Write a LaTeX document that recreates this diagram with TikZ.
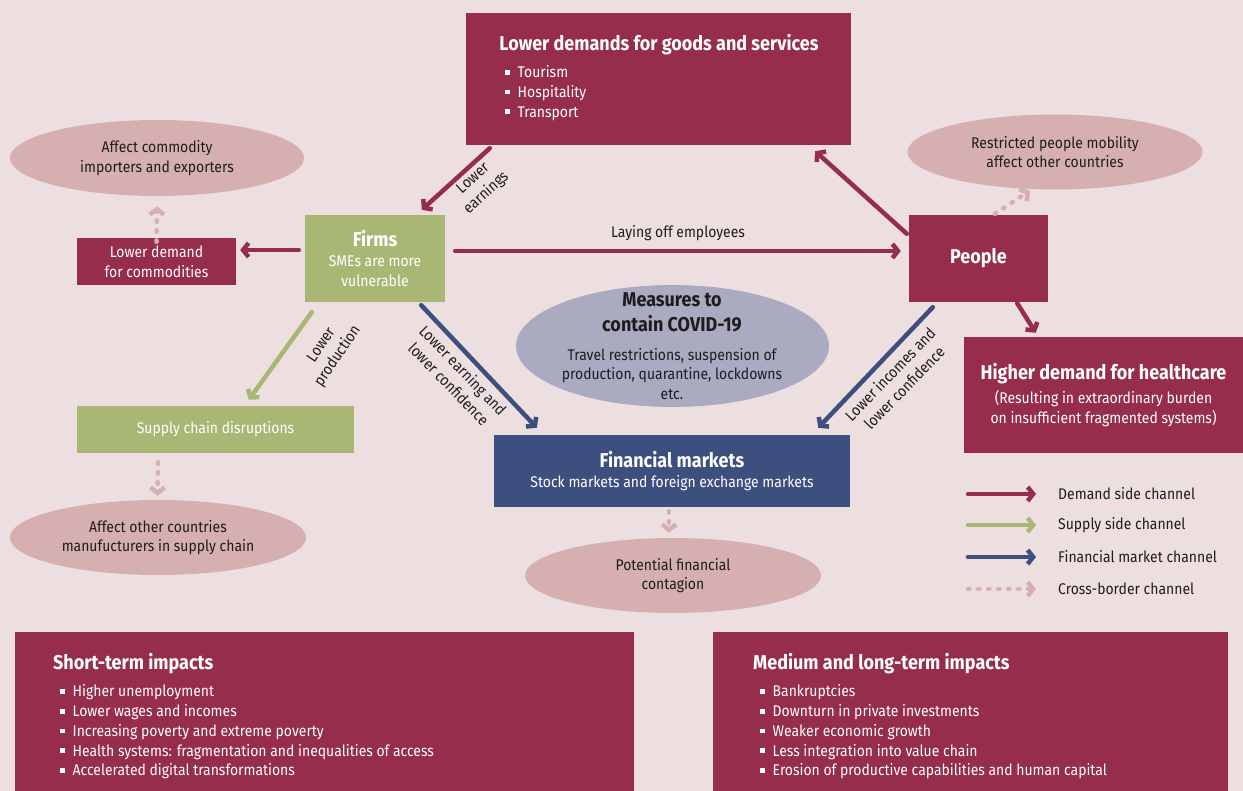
\documentclass[tikz,border=0pt]{standalone}
\usepackage{fontspec}
\setmainfont{Fira Sans}[FakeStretch=0.9]
\usepackage{xcolor}
\usetikzlibrary{positioning,arrows.meta,shapes.geometric}

\definecolor{bgpink}{RGB}{237,223,224}
\definecolor{maroon}{RGB}{150,45,74}
\definecolor{olive}{RGB}{168,184,116}
\definecolor{navy}{RGB}{61,79,126}
\definecolor{rose}{RGB}{214,176,177}
\definecolor{lilac}{RGB}{170,170,193}
\definecolor{ink}{RGB}{30,28,30}

\newcommand{\bodyfont}{\fontsize{15.5}{19.7}\selectfont}
\newcommand{\headfont}{\fontsize{20}{25}\selectfont\bfseries}
\newcommand{\sqb}{\rule[0.2em]{4.5pt}{4.5pt}\hspace{8pt}}

\tikzset{
redbox/.style={fill=maroon, text=white, inner sep=0pt, font=\bodyfont, align=center},
greenbox/.style={fill=olive, text=white, inner sep=0pt, font=\bodyfont, align=center},
bluebox/.style={fill=navy, text=white, inner sep=0pt, font=\bodyfont, align=center},
bubble/.style={ellipse, fill=rose, text=ink, inner sep=0pt, font=\bodyfont, align=center},
head/.style={font=\headfont, text=white, inner sep=0pt},
list/.style={font=\bodyfont, text=white, align=left, inner sep=0pt},
lab/.style={font=\bodyfont, text=ink, align=center, inner sep=0pt},
chan/.style={line width=4.5pt, line cap=round, -{Straight Barb[length=5.5pt,width=14pt]}},
demand/.style={chan, maroon},
supply/.style={chan, olive},
finance/.style={chan, navy},
border/.style={chan, rose, line cap=round, dash pattern=on 1.5pt off 8.5pt}
}

\begin{document}
\begin{tikzpicture}[x=1pt,y=-1pt]
\fill[bgpink] (0,0) rectangle (1243,791);
\useasboundingbox (0,0) rectangle (1243,791);

% boxes
\node[redbox, minimum width=385pt, minimum height=132pt] (goods) at (658.5,79) {};
\node[head] (goodshead) at (659,45) {Lower demands for goods and services};
\node[list, anchor=west] (goodslist) at (505,93) {\sqb Tourism\\ \sqb Hospitality\\ \sqb Transport};

\node[redbox, minimum width=159pt, minimum height=47pt] (commod) at (156.5,261.5) {Lower demand\\for commodities};
\node[greenbox, minimum width=140pt, minimum height=87pt] (firms) at (375,258.5) {{\headfont Firms}\\SMEs are more\\vulnerable};
\node[redbox, minimum width=139pt, minimum height=87pt] (people) at (978.5,258.5) {\headfont People};
\node[redbox, minimum width=279pt, minimum height=116pt] (health) at (1103.5,395)
  {{\headfont Higher demand for healthcare}\\[5pt](Resulting in extraordinary burden\\on insufficient fragmented systems)};
\node[greenbox, minimum width=277pt, minimum height=47pt] (chain) at (215.5,429.5) {Supply chain disruptions};
\node[bluebox, minimum width=356pt, minimum height=72pt] (fin) at (672,471) {{\headfont Financial markets}\\Stock markets and foreign exchange markets};

% ellipses
\node[bubble, minimum width=294pt, minimum height=76pt] (commodity) at (157,158) {Affect commodity\\importers and exporters};
\node[bubble, minimum width=295pt, minimum height=75pt] (mobility) at (1055,152) {Restricted people mobility\\affect other countries};
\node[bubble, minimum width=296pt, minimum height=75pt] (others) at (158,537.5) {Affect other countries\\manufucturers in supply chain};
\node[bubble, minimum width=296pt, minimum height=75pt] (contagion) at (673,575.5) {Potential financial\\contagion};
\node[bubble, fill=lilac, minimum width=313pt, minimum height=122pt] (covid) at (672.5,346) {};
\node[head, text=ink, align=center] (covidhead) at (672,312.5) {Measures to\\contain COVID-19};
\node[lab] (covidtext) at (672,374) {Travel restrictions, suspension of\\production, quarantine, lockdowns\\etc.};

% impacts
\node[redbox, minimum width=619pt, minimum height=159pt] (short) at (324.5,711.5) {};
\node[head, anchor=west] (shorthead) at (53,664) {Short-term impacts};
\node[list, anchor=west] (shortlist) at (60,732) {\sqb Higher unemployment\\ \sqb Lower wages and incomes\\ \sqb Increasing poverty and extreme poverty\\ \sqb Health systems: fragmentation and inequalities of access\\ \sqb Accelerated digital transformations};
\node[redbox, minimum width=515pt, minimum height=159pt] (medium) at (970.5,711.5) {};
\node[head, anchor=west] (mediumhead) at (753,664) {Medium and long-term impacts};
\node[list, anchor=west] (mediumlist) at (760,732) {\sqb Bankruptcies\\ \sqb Downturn in private investments\\ \sqb Weaker economic growth\\ \sqb Less integration into value chain\\ \sqb Erosion of productive capabilities and human capital};

% channels
\draw[demand] ([xshift=24pt,yshift=-3pt]goods.south west) -- ([xshift=117pt,yshift=5pt]firms.north west);
\draw[demand] ([xshift=-6pt,yshift=8.5pt]firms.west) -- ([xshift=4pt,yshift=11.5pt]commod.east);
\draw[demand] ([xshift=10pt,yshift=7.5pt]firms.east) -- ([xshift=-8pt,yshift=7.5pt]people.west)
  node[lab, midway, above=8pt] (layoff) {Laying off employees};
\draw[demand] ([xshift=-2pt,yshift=-19pt]people.north west) -- ([xshift=-36pt,yshift=-6pt]goods.south east);
\draw[demand] ([xshift=-31pt,yshift=-1pt]people.south east) -- ([xshift=72pt,yshift=4pt]health.north west);
\draw[supply] ([xshift=7pt,yshift=-10pt]firms.south west) -- ([xshift=172pt,yshift=6pt]chain.north west);
\draw[finance] ([xshift=-24pt,yshift=-3pt]firms.south east) -- ([xshift=43pt,yshift=7pt]fin.north west);
\draw[finance] ([xshift=24pt,yshift=-5pt]people.south west) -- ([xshift=-32pt,yshift=7pt]fin.north east);
\draw[border] ([yshift=-4pt]commod.north) -- ([yshift=-10pt]commodity.south);
\draw[border] ([xshift=86pt,yshift=1pt]people.north west) -- ([xshift=-25pt,yshift=-1pt]mobility.south);
\draw[border] ([xshift=-57.5pt,yshift=-9pt]chain.south) -- ([xshift=-0.5pt,yshift=4pt]others.north);
\draw[border] ([xshift=-3pt,yshift=-4pt]fin.south) -- ([xshift=-4pt,yshift=5pt]contagion.north);

% arrow labels
\node[lab, rotate=42] (earnlab) at (480,186) {Lower\\earnings};
\node[lab, rotate=56] (prodlab) at (330,351) {Lower\\production};
\node[lab, rotate=-46] (conflab) at (456,377) {Lower earning and\\lower confidence};
\node[lab, rotate=46] (inclab) at (897,381) {Lower incomes and\\lower confidence};

% legend
\foreach \y/\sty/\txt [count=\i] in {494/demand/Demand side channel, 525/supply/Supply side channel,
    557/finance/Financial market channel, 589/border/Cross-border channel} {
  \coordinate (key\i) at (968,\y);
  \coordinate (keyend\i) at (1036,\y);
  \draw[\sty] (key\i) -- (keyend\i);
  \node[lab, anchor=west] (keytext\i) at (1058,\y) {\txt};
}
\end{tikzpicture}
\end{document}
